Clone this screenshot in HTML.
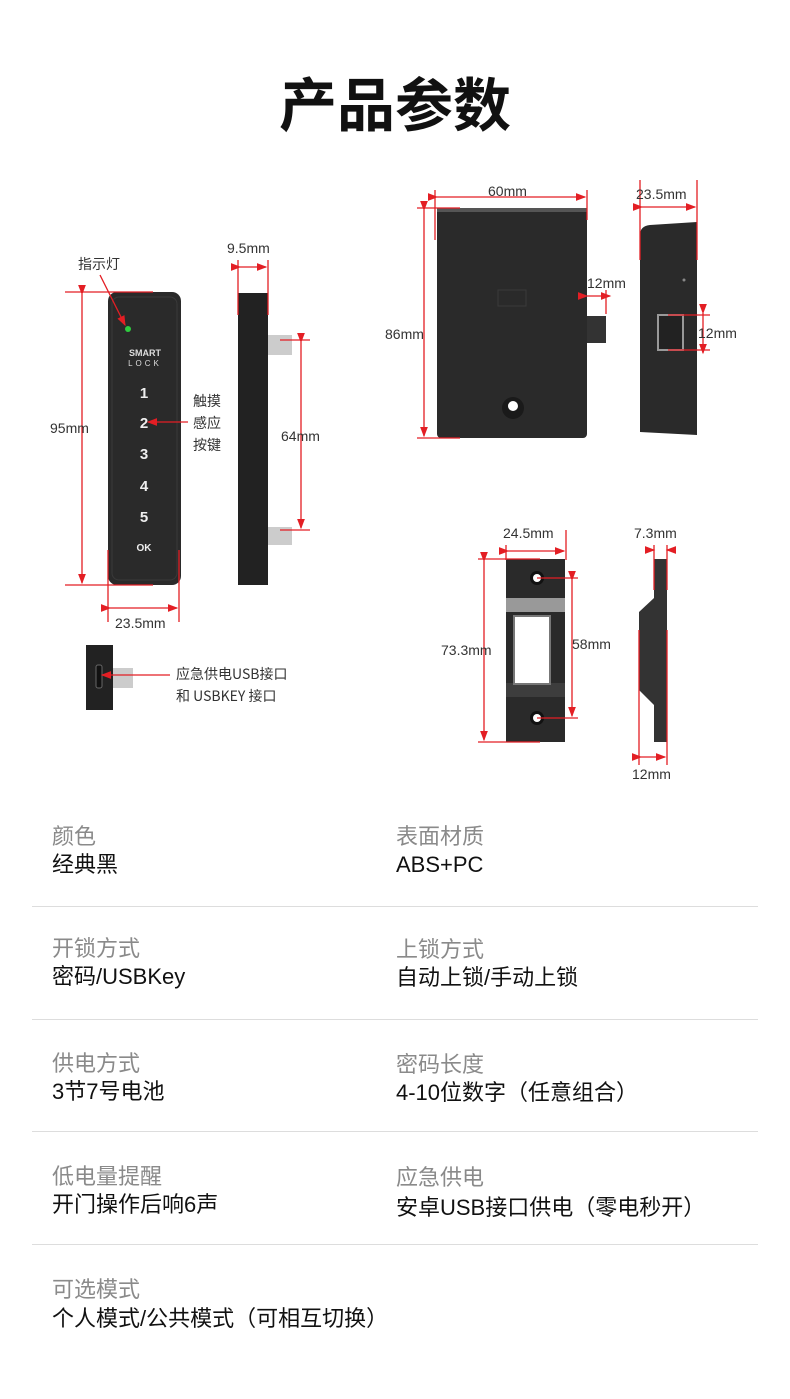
<!DOCTYPE html>
<html><head><meta charset="utf-8"><style>
body{margin:0;width:790px;height:1399px;background:#fff;position:relative;overflow:hidden;font-family:"Liberation Sans","Noto Sans CJK SC",sans-serif}
.t{position:absolute;left:0;width:790px;top:66px;text-align:center;font-size:58px;font-weight:bold;color:#111;font-family:"Noto Sans CJK SC",sans-serif;line-height:70px}
svg{position:absolute;left:0;top:0}
.lb{position:absolute;font-size:22px;color:#8a8a8a;font-family:"Noto Sans CJK SC",sans-serif;line-height:30px}
.v{position:absolute;font-size:22px;color:#111;font-family:"Liberation Sans","Noto Sans CJK SC",sans-serif;line-height:30px}
.hr{position:absolute;left:32px;width:726px;height:1px;background:#ddd}
</style></head><body>
<div class="t">产品参数</div>
<svg width="790" height="800" viewBox="0 0 790 800" font-family="Liberation Sans, Noto Sans CJK SC, sans-serif">
<defs><marker id="a" markerWidth="8" markerHeight="8" refX="7" refY="4" orient="auto"><path d="M0,1 L8,4 L0,7z" fill="#e31e24"/></marker></defs>
<g fill="#2a2a2a">
<rect x="108" y="292" width="73" height="293" rx="9"/>
<rect x="238" y="293" width="30" height="292" fill="#222"/>
<rect x="86" y="645" width="27" height="65" fill="#222"/>
<rect x="437" y="208" width="150" height="230" rx="4"/>
<rect x="587" y="316" width="19" height="27" fill="#333"/>
<path d="M650,225 L697,222 L697,435 L640,432 L640,235 Q640,226 650,225z"/>
<rect x="506" y="559" width="59" height="183"/>
<path d="M654,559 L667,559 L667,742 L654,742 L654,705 L639,690 L639,612 L654,598z" fill="#333"/>
</g>
<rect x="112" y="297" width="65" height="283" rx="7" fill="none" stroke="#3a3a3a"/>
<circle cx="128" cy="329" r="3" fill="#2ecc40"/>
<text x="145" y="356" fill="#ddd" font-size="9" text-anchor="middle" font-weight="bold">SMART</text>
<text x="145" y="366" fill="#ddd" font-size="8" text-anchor="middle" letter-spacing="3">LOCK</text>
<g fill="#eee" font-size="15" font-weight="bold" text-anchor="middle"><text x="144" y="398">1</text><text x="144" y="428">2</text><text x="144" y="459">3</text><text x="144" y="491">4</text><text x="144" y="522">5</text><text x="144" y="551" font-size="10">OK</text></g>
<g fill="#ccc"><rect x="268" y="335" width="24" height="20"/><rect x="268" y="527" width="24" height="18"/><rect x="113" y="668" width="20" height="20"/></g>
<rect x="96" y="665" width="6" height="23" rx="2" fill="#111" stroke="#666"/>
<rect x="498" y="290" width="28" height="16" fill="none" stroke="#3a3a3a"/>
<rect x="437" y="208" width="150" height="4" fill="#555"/>
<circle cx="513" cy="408" r="11" fill="#1a1a1a"/><circle cx="513" cy="406" r="5" fill="#fff"/>
<rect x="658" y="315" width="25" height="35" fill="#222" stroke="#999" stroke-width="2"/>
<circle cx="684" cy="280" r="1.5" fill="#888"/>
<rect x="506" y="598" width="59" height="14" fill="#999"/>
<rect x="506" y="683" width="59" height="14" fill="#3d3d3d"/>
<rect x="514" y="616" width="36" height="68" fill="#fff" stroke="#777" stroke-width="2"/>
<circle cx="537" cy="578" r="7" fill="#111"/><circle cx="537" cy="578" r="4" fill="#fff"/>
<circle cx="537" cy="718" r="7" fill="#111"/><circle cx="537" cy="718" r="4" fill="#fff"/>
<g stroke="#e31e24" stroke-width="1.3" fill="none">
<line x1="65" y1="292" x2="153" y2="292"/><line x1="65" y1="585" x2="153" y2="585"/>
<line x1="82" y1="294" x2="82" y2="583" marker-start="url(#a)" marker-end="url(#a)"/>
<line x1="108" y1="550" x2="108" y2="622"/><line x1="179" y1="550" x2="179" y2="622"/>
<line x1="110" y1="608" x2="177" y2="608" marker-start="url(#a)" marker-end="url(#a)"/>
<line x1="100" y1="275" x2="125" y2="325" marker-end="url(#a)"/>
<line x1="188" y1="422" x2="148" y2="422" marker-end="url(#a)"/>
<line x1="238" y1="260" x2="238" y2="315"/><line x1="268" y1="260" x2="268" y2="315"/>
<line x1="240" y1="267" x2="266" y2="267" marker-start="url(#a)" marker-end="url(#a)"/>
<line x1="280" y1="340" x2="310" y2="340"/><line x1="280" y1="530" x2="310" y2="530"/>
<line x1="301" y1="342" x2="301" y2="528" marker-start="url(#a)" marker-end="url(#a)"/>
<line x1="170" y1="675" x2="102" y2="675" marker-end="url(#a)"/>
<line x1="435" y1="190" x2="435" y2="240"/><line x1="587" y1="190" x2="587" y2="220"/>
<line x1="437" y1="197" x2="585" y2="197" marker-start="url(#a)" marker-end="url(#a)"/>
<line x1="417" y1="208" x2="460" y2="208"/><line x1="417" y1="438" x2="460" y2="438"/>
<line x1="424" y1="210" x2="424" y2="436" marker-start="url(#a)" marker-end="url(#a)"/>
<line x1="587" y1="296" x2="610" y2="296" marker-start="url(#a)" marker-end="url(#a)"/>
<line x1="606" y1="290" x2="606" y2="314"/>
<line x1="640" y1="180" x2="640" y2="260"/><line x1="697" y1="180" x2="697" y2="260"/>
<line x1="642" y1="207" x2="695" y2="207" marker-start="url(#a)" marker-end="url(#a)"/>
<line x1="668" y1="315" x2="710" y2="315"/><line x1="668" y1="350" x2="710" y2="350"/>
<line x1="703" y1="313" x2="703" y2="353" marker-start="url(#a)" marker-end="url(#a)"/>
<line x1="506" y1="545" x2="506" y2="560"/><line x1="566" y1="530" x2="566" y2="560"/>
<line x1="508" y1="551" x2="564" y2="551" marker-start="url(#a)" marker-end="url(#a)"/>
<line x1="478" y1="559" x2="540" y2="559"/><line x1="478" y1="742" x2="540" y2="742"/>
<line x1="484" y1="561" x2="484" y2="740" marker-start="url(#a)" marker-end="url(#a)"/>
<line x1="537" y1="578" x2="578" y2="578"/><line x1="537" y1="718" x2="578" y2="718"/>
<line x1="572" y1="580" x2="572" y2="716" marker-start="url(#a)" marker-end="url(#a)"/>
<line x1="654" y1="545" x2="654" y2="590"/><line x1="667" y1="545" x2="667" y2="590"/>
<line x1="645" y1="550" x2="654" y2="550" marker-end="url(#a)"/><line x1="676" y1="550" x2="667" y2="550" marker-end="url(#a)"/>
<line x1="639" y1="630" x2="639" y2="765"/><line x1="667" y1="630" x2="667" y2="765"/>
<line x1="641" y1="757" x2="665" y2="757" marker-start="url(#a)" marker-end="url(#a)"/>
</g>
<g fill="#333" font-size="14">
<text x="50" y="433">95mm</text><text x="115" y="628">23.5mm</text><text x="227" y="253">9.5mm</text><text x="281" y="441">64mm</text>
<text x="488" y="196">60mm</text><text x="385" y="339">86mm</text><text x="587" y="288">12mm</text><text x="636" y="199">23.5mm</text><text x="698" y="338">12mm</text>
<text x="503" y="538">24.5mm</text><text x="441" y="655">73.3mm</text><text x="572" y="649">58mm</text><text x="634" y="538">7.3mm</text><text x="632" y="779">12mm</text>
</g>
<g fill="#333" font-size="14" font-family="Noto Sans CJK SC, sans-serif">
<text x="78" y="269">指示灯</text><text x="193" y="406">触摸</text><text x="193" y="428">感应</text><text x="193" y="450">按键</text>
<text x="176" y="679">应急供电USB接口</text><text x="176" y="701">和 USBKEY 接口</text>
</g>
</svg>
<div class="lb" style="left:52px;top:820px">颜色</div><div class="v" style="left:52px;top:850px">经典黑</div>
<div class="lb" style="left:396px;top:820px">表面材质</div><div class="v" style="left:396px;top:850px">ABS+PC</div>
<div class="hr" style="top:906px"></div>
<div class="lb" style="left:52px;top:932px">开锁方式</div><div class="v" style="left:52px;top:962px">密码/USBKey</div>
<div class="lb" style="left:396px;top:933px">上锁方式</div><div class="v" style="left:396px;top:963px">自动上锁/手动上锁</div>
<div class="hr" style="top:1019px"></div>
<div class="lb" style="left:52px;top:1047px">供电方式</div><div class="v" style="left:52px;top:1077px">3节7号电池</div>
<div class="lb" style="left:396px;top:1048px">密码长度</div><div class="v" style="left:396px;top:1078px">4-10位数字（任意组合）</div>
<div class="hr" style="top:1131px"></div>
<div class="lb" style="left:52px;top:1160px">低电量提醒</div><div class="v" style="left:52px;top:1190px">开门操作后响6声</div>
<div class="lb" style="left:396px;top:1161px">应急供电</div><div class="v" style="left:396px;top:1193px">安卓USB接口供电（零电秒开）</div>
<div class="hr" style="top:1244px"></div>
<div class="lb" style="left:52px;top:1273px">可选模式</div><div class="v" style="left:52px;top:1304px">个人模式/公共模式（可相互切换）</div>
</body></html>
